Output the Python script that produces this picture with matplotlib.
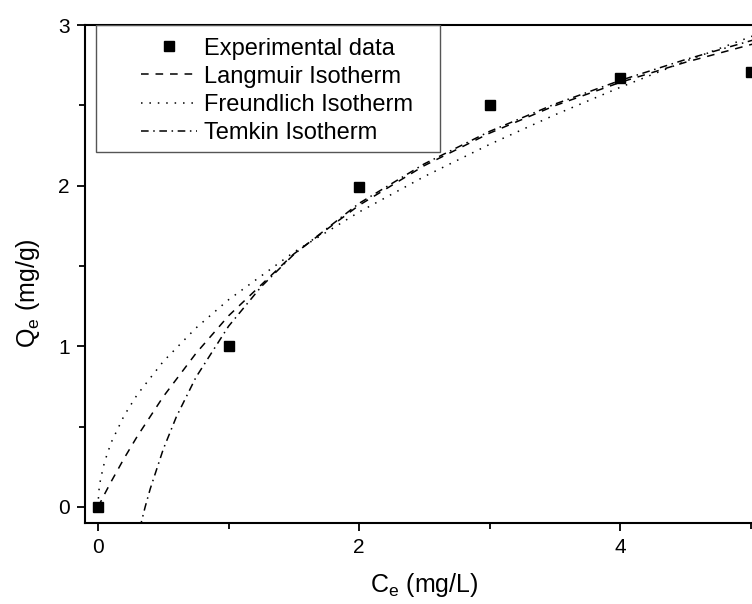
import matplotlib
matplotlib.use('Agg')
import matplotlib.pyplot as plt
from matplotlib.patches import Rectangle
from matplotlib.ticker import MultipleLocator

plt.rcParams['font.family'] = ['Liberation Sans', 'DejaVu Sans']

# experimental points
ce_exp = [0, 1, 2, 3, 4, 5]
qe_exp = [0.0, 1.0, 1.99, 2.50, 2.67, 2.71]

# fitted curves
c_lang = [0, 0.05, 0.1, 0.2, 0.3, 0.5, 0.75, 1, 1.5, 2, 2.5, 3, 3.5, 4, 4.5, 5, 5.1]
q_lang = [0, 0.080, 0.157, 0.303, 0.439, 0.687, 0.956, 1.190, 1.575, 1.878,
          2.125, 2.327, 2.498, 2.643, 2.768, 2.878, 2.898]

c_freu = [0, 0.005, 0.01, 0.02, 0.05, 0.1, 0.2, 0.3, 0.5, 0.75, 1, 1.5, 2, 2.5,
          3, 3.5, 4, 4.5, 5, 5.1]
q_freu = [0, 0.087, 0.124, 0.176, 0.281, 0.400, 0.569, 0.699, 0.906, 1.114,
          1.290, 1.586, 1.836, 2.057, 2.257, 2.441, 2.612, 2.774, 2.927, 2.956]

c_temk = [0.32, 0.361, 0.4, 0.5, 0.6, 0.75, 1, 1.25, 1.5, 2, 2.5, 3, 3.5, 4, 4.5, 5, 5.1]
q_temk = [-0.133, 0.0, 0.113, 0.360, 0.561, 0.807, 1.125, 1.371, 1.572, 1.890,
          2.136, 2.338, 2.508, 2.655, 2.785, 2.902, 2.924]

fig = plt.figure(figsize=(7.52, 6.04), dpi=100)
ax = fig.add_axes([0.113, 0.134, 0.9024, 0.8245])

ax.plot(ce_exp, qe_exp, 's', color='black', markersize=7.5, label='Experimental data',
        zorder=5, clip_on=False)
ax.plot(c_lang, q_lang, color='black', lw=1.1, dashes=(5, 4.5), label='Langmuir Isotherm')
ax.plot(c_freu, q_freu, color='black', lw=1.1, dashes=(1, 4.5), label='Freundlich Isotherm')
ax.plot(c_temk, q_temk, color='black', lw=1.1, dashes=(5, 3, 1, 3), label='Temkin Isotherm')

ax.set_xlim(-0.1, 5.1)
ax.set_ylim(-0.1, 3.0)
ax.xaxis.set_major_locator(MultipleLocator(2))
ax.xaxis.set_minor_locator(MultipleLocator(1))
ax.yaxis.set_major_locator(MultipleLocator(1))
ax.yaxis.set_minor_locator(MultipleLocator(0.5))
ax.tick_params(which='both', direction='out', width=1.3, labelsize=15, top=False, right=False)
ax.tick_params(which='major', length=5.5, pad=5.5)
ax.tick_params(which='minor', length=4)
for s in ax.spines.values():
    s.set_linewidth(1.5)

ax.set_xlabel('C$_\\mathregular{e}$ (mg/L)', fontsize=18, labelpad=10)
ax.set_ylabel('Q$_\\mathregular{e}$ (mg/g)', fontsize=18)
ax.yaxis.set_label_coords(-0.064, 0.462)

# legend box
ax.add_patch(Rectangle((0.0162, 0.745), 0.507, 0.255, transform=ax.transAxes,
                       fill=False, edgecolor='#555555', lw=1.0, zorder=6))
ax.legend(loc='upper left', bbox_to_anchor=(0.078, 0.982), frameon=False,
          fontsize=17, handlelength=2.37, handletextpad=0.3, labelspacing=0.26,
          borderpad=0.15, borderaxespad=0)

fig.savefig('out.png', dpi=100)
